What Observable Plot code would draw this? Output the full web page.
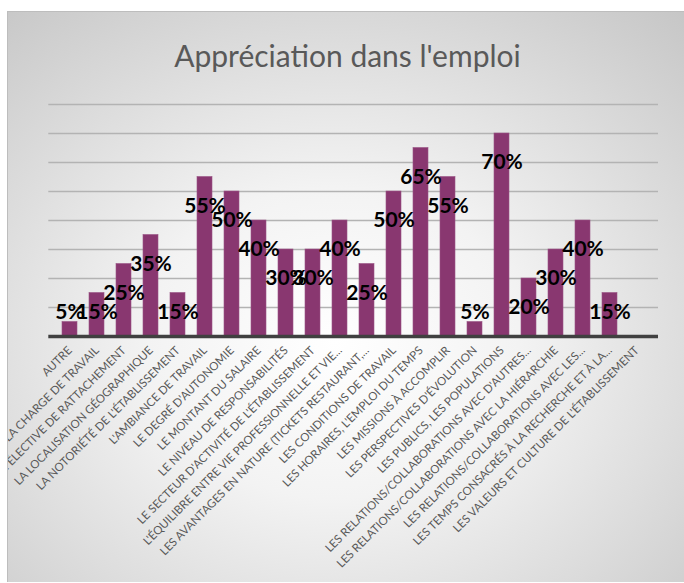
<!DOCTYPE html>
<html>
<head>
<meta charset="utf-8">
<script src="https://cdn.jsdelivr.net/npm/d3@7"></script>
<script src="https://cdn.jsdelivr.net/npm/@observablehq/plot@0.6"></script>
<style>
  html, body { margin: 0; padding: 0; background: #ffffff; overflow: hidden; width: 684px; height: 583px; }
  #box {
    position: absolute; left: 7px; top: 11px; width: 680px; height: 571px;
    box-sizing: border-box;
    border-left: 1px solid #bdbdbd; border-top: 1px solid #bdbdbd;
    background: radial-gradient(ellipse 78% 78% at 48% 58%, #ffffff 0%, #f3f3f3 35%, #c6c6c6 100%);
    overflow: hidden;
  }
  #title {
    height: 80px; box-sizing: border-box; padding-top: 27px; padding-right: 0px;
    font-family: Lato, "Open Sans", sans-serif; font-size: 30px; line-height: 32px;
    color: #595959; text-align: center; white-space: nowrap;
  }
  #plot { position: absolute; left: -1px; top: 79px; }
</style>
</head>
<body>
<div id="box">
  <div id="title">Appréciation dans l'emploi</div>
  <div id="plot"></div>
</div>
<script>
const categories = [
  "AUTRE",
  "LA CHARGE DE TRAVAIL",
  "LA COLLECTIVITÉ ÉLECTIVE DE RATTACHEMENT",
  "LA LOCALISATION GÉOGRAPHIQUE",
  "LA NOTORIÉTÉ DE L'ÉTABLISSEMENT",
  "L'AMBIANCE DE TRAVAIL",
  "LE DEGRÉ D'AUTONOMIE",
  "LE MONTANT DU SALAIRE",
  "LE NIVEAU DE RESPONSABILITÉS",
  "LE SECTEUR D'ACTIVITÉ DE L'ÉTABLISSEMENT",
  "L'ÉQUILIBRE ENTRE VIE PROFESSIONNELLE ET VIE...",
  "LES AVANTAGES EN NATURE (TICKETS RESTAURANT,...",
  "LES CONDITIONS DE TRAVAIL",
  "LES HORAIRES, L'EMPLOI DU TEMPS",
  "LES MISSIONS À ACCOMPLIR",
  "LES PERSPECTIVES D'ÉVOLUTION",
  "LES PUBLICS, LES POPULATIONS",
  "LES RELATIONS/COLLABORATIONS AVEC D'AUTRES...",
  "LES RELATIONS/COLLABORATIONS AVEC LA HIÉRARCHIE",
  "LES RELATIONS/COLLABORATIONS AVEC LES...",
  "LES TEMPS CONSACRÉS À LA RECHERCHE ET À LA...",
  "LES VALEURS ET CULTURE DE L'ÉTABLISSEMENT"
];
const values = [5, 15, 25, 35, 15, 55, 50, 40, 30, 30, 40, 25, 50, 65, 55, 5, 70, 20, 30, 40, 15, null];
const gridValues = [10, 20, 30, 40, 50, 60, 70, 80];
const yDomain = [0, 80];

const data = categories.map((c, i) => ({category: c, value: values[i]}));
const withValue = data.filter(d => d.value != null);

const chart = Plot.plot({
  width: 677,
  height: 491,
  marginTop: 13,
  marginLeft: 41.3,
  marginRight: 26,
  marginBottom: 246,
  style: {background: "transparent", color: "#595959", fontFamily: "Lato, 'Open Sans', sans-serif", fontSize: "11.5px"},
  x: {domain: categories, paddingInner: 0.43, paddingOuter: 0.215, label: null},
  y: {domain: yDomain, axis: null},
  marks: [
    Plot.ruleY(gridValues, {stroke: "#b3b3b3", strokeWidth: 1.3}),
    Plot.barY(withValue, {x: "category", y: "value", fill: "#893770", stroke: "#9a5585", strokeWidth: 0.6}),
    Plot.ruleY([0], {stroke: "#404040", strokeWidth: 3.5}),
    Plot.axisX({tickSize: 0, tickPadding: 12, tickRotate: -45, fontSize: 11.5, label: null}),
    Plot.text(withValue, {
      x: "category",
      y: d => Math.max(d.value - 10, 8.2),
      text: d => d.value + "%",
      fontSize: 21, fontWeight: "bold", fill: "#000000",
      fontFamily: "Lato, 'Open Sans', sans-serif"
    })
  ]
});
document.getElementById("plot").appendChild(chart);
</script>
</body>
</html>
